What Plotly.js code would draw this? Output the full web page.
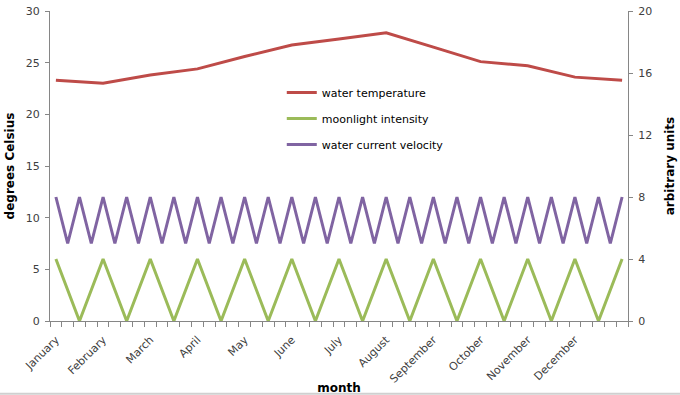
<!DOCTYPE html>
<html>
<head>
<meta charset="utf-8">
<script src="https://cdn.plot.ly/plotly-3.0.1.min.js"></script>
<style>html,body{margin:0;padding:0;background:#fff;}#chart{width:680px;height:395px;}</style>
</head>
<body>
<div id="chart"></div>
<script>
// Month tick labels (one every 4 category slots)
const monthLabels = ["January","February","March","April","May","June","July","August","September","October","November","December"];
const monthSlots = [0,4,8,12,16,20,24,28,32,36,40,44];

// Water temperature (degrees Celsius), sampled at every 4th slot
const tempSlots = [0,4,8,12,16,20,24,28,32,36,40,44,48];
const waterTemperature = [23.3,23.0,23.8,24.4,25.6,26.7,27.3,27.9,26.5,25.1,24.7,23.6,23.3];

// Moonlight intensity (arbitrary units), every 2nd slot
const moonSlots = [0,2,4,6,8,10,12,14,16,18,20,22,24,26,28,30,32,34,36,38,40,42,44,46,48];
const moonlightIntensity = [4,0,4,0,4,0,4,0,4,0,4,0,4,0,4,0,4,0,4,0,4,0,4,0,4];

// Water current velocity (arbitrary units), every slot
const currentSlots = [0,1,2,3,4,5,6,7,8,9,10,11,12,13,14,15,16,17,18,19,20,21,22,23,24,25,26,27,28,29,30,31,32,33,34,35,36,37,38,39,40,41,42,43,44,45,46,47,48];
const currentVelocity = [8,5,8,5,8,5,8,5,8,5,8,5,8,5,8,5,8,5,8,5,8,5,8,5,8,5,8,5,8,5,8,5,8,5,8,5,8,5,8,5,8,5,8,5,8,5,8,5,8];

const FONT = "DejaVu Sans, Verdana, sans-serif";
const AX = "#868686";
const TICKC = "#404040";

const traces = [
  {x: tempSlots, y: waterTemperature, name: "water temperature", type: "scatter", mode: "lines",
   line: {color: "#BE4B48", width: 3}, yaxis: "y", legendgroup: "a"},
  {x: moonSlots, y: moonlightIntensity, name: "moonlight intensity", type: "scatter", mode: "lines",
   line: {color: "#9BBB59", width: 3}, yaxis: "y2", legendgroup: "b"},
  {x: currentSlots, y: currentVelocity, name: "water current velocity", type: "scatter", mode: "lines",
   line: {color: "#8064A2", width: 3}, yaxis: "y2", legendgroup: "c"},
  // empty helper trace so the category-boundary tick axis is drawn
  {x: [], y: [], xaxis: "x2", yaxis: "y", showlegend: false, hoverinfo: "skip", type: "scatter", mode: "lines"}
];

const layout = {
  width: 680, height: 395,
  margin: {l: 50, r: 52, t: 11, b: 74, pad: 0},
  paper_bgcolor: "#fff", plot_bgcolor: "#fff",
  font: {family: FONT, size: 11, color: TICKC},
  showlegend: true,
  legend: {x: 0.401, y: 0.784, xanchor: "left", yanchor: "top", bgcolor: "rgba(0,0,0,0)",
           font: {family: FONT, size: 11, color: "#000"}, tracegroupgap: 7, itemwidth: 30},
  xaxis: {
    range: [-0.5, 48.5], showgrid: false, zeroline: false,
    showline: true, linecolor: AX, linewidth: 1,
    tickmode: "array", tickvals: monthSlots, ticktext: monthLabels,
    ticks: "", tickangle: -45, ticklabelstandoff: 7, tickfont: {family: FONT, size: 11, color: TICKC},
    title: {text: "month", font: {family: FONT, size: 12, color: "#000", weight: "bold"}, standoff: 2}
  },
  xaxis2: {
    range: [-0.5, 48.5], overlaying: "x", side: "bottom", anchor: "y",
    showgrid: false, zeroline: false, showline: false, showticklabels: false,
    tickmode: "linear", tick0: -0.5, dtick: 1, ticks: "outside", ticklen: 5, tickcolor: AX, tickwidth: 1
  },
  yaxis: {
    range: [0, 30], dtick: 5, tick0: 0, showgrid: false, zeroline: false,
    showline: true, linecolor: AX, linewidth: 1,
    ticks: "outside", ticklen: 4, tickcolor: AX, ticklabelstandoff: 3, tickfont: {family: FONT, size: 11, color: TICKC},
    title: {text: "degrees Celsius", font: {family: FONT, size: 12, color: "#000", weight: "bold"}, standoff: 8}
  },
  yaxis2: {
    range: [0, 20], dtick: 4, tick0: 0, overlaying: "y", side: "right", showgrid: false, zeroline: false,
    showline: true, linecolor: AX, linewidth: 1,
    ticks: "outside", ticklen: 4, tickcolor: AX, ticklabelstandoff: 3, tickfont: {family: FONT, size: 11, color: TICKC},
    title: {text: "arbitrary units", font: {family: FONT, size: 12, color: "#000", weight: "bold"}, standoff: 14}
  },
  shapes: [
    {type: "line", xref: "paper", yref: "paper", x0: -0.1, x1: 1.1, y0: -0.235, y1: -0.235,
     line: {color: "#d0d0d0", width: 2}}
  ]
};

Plotly.newPlot("chart", traces, layout, {displayModeBar: false, staticPlot: true});
</script>
</body>
</html>
